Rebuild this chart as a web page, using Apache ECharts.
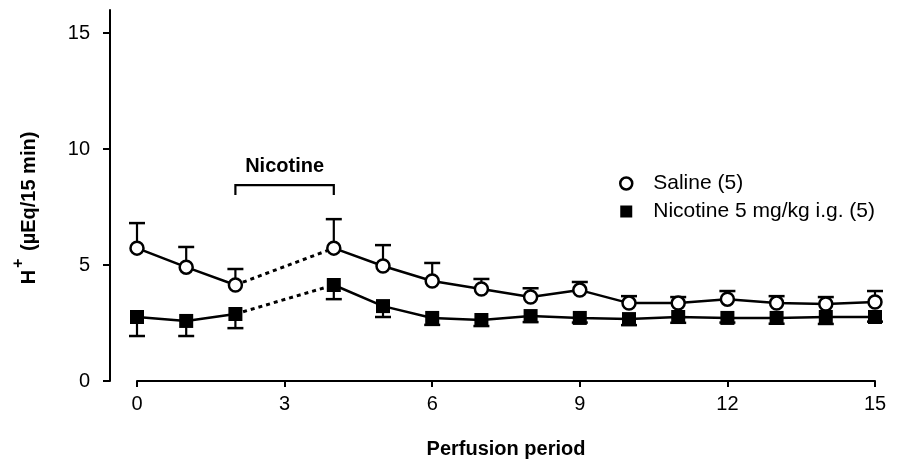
<!DOCTYPE html>
<html><head><meta charset="utf-8">
<script src="https://cdn.jsdelivr.net/npm/echarts@6/dist/echarts.min.js"></script>
<style>html,body{margin:0;padding:0;background:#fff}#c{width:897px;height:470px}</style>
</head><body><div id="c"></div>
<script>
// ---- data ----
const periods = [0,1,2,3,4,5,6,7,8,9,10,11,12,13,14,15];
const salineMean   = [5.73,4.91,4.14,null,5.73,4.96,4.31,3.97,3.62,3.92,3.36,3.36,3.53,3.36,3.32,3.41];
const salineSem    = [1.08,0.87,0.69,null,1.25,0.90,0.78,0.43,0.38,0.35,0.30,0.26,0.35,0.30,0.30,0.47];
const nicotineMean = [2.76,2.59,2.89,null,4.14,3.23,2.72,2.63,2.80,2.72,2.67,2.76,2.72,2.72,2.76,2.76];
const nicotineSem  = [0.82,0.65,0.61,null,0.61,0.47,0.30,0.26,0.26,0.20,0.26,0.25,0.20,0.25,0.30,0.20];
const xTicks = [0,3,6,9,12,15];
const yTicks = [0,5,10,15];
const nicotinePeriod = [2,4];
const seriesNames = ['Saline (5)', 'Nicotine 5 mg/kg i.g. (5)'];

// ---- chart ----
const FONT = 'Liberation Sans, Arial, Helvetica, sans-serif';
const chart = echarts.init(document.getElementById('c'), null, {renderer:'canvas'});

function lineData(means){ return periods.map((p,i)=>[p, means[i]==null ? '-' : means[i]]); }
function errData(means, sems){ return periods.map((p,i)=> means[i]==null ? null : [p, means[i], sems[i]]).filter(Boolean); }
function connector(means){ return nicotinePeriod.map(p => [p, means[periods.indexOf(p)]]); }

function errorSeries(name, means, sems, dir){
  return {
    type:'custom', name:name, silent:true, z:1,
    encode:{x:0, y:1},
    renderItem:function(params, api){
      const x = api.value(0), m = api.value(1), e = api.value(2);
      const p0 = api.coord([x, m]);
      const p1 = api.coord([x, m + dir*e]);
      return {type:'group', children:[
        {type:'line', shape:{x1:p0[0], y1:p0[1], x2:p1[0], y2:p1[1]}, style:{stroke:'#000', lineWidth:2.2}},
        {type:'line', shape:{x1:p1[0]-8, y1:p1[1], x2:p1[0]+8, y2:p1[1]}, style:{stroke:'#000', lineWidth:2.5}}
      ]};
    },
    data: errData(means, sems)
  };
}

const BRACKET_LEVEL = 8.45;
const option = {
  backgroundColor:'#fff',
  animation:false,
  grid:{left:137, right:22, top:10, bottom:89},
  xAxis:{
    type:'value', min:0, max:15, interval:3,
    axisLine:{show:true, onZero:false, lineStyle:{color:'#000', width:2}},
    axisTick:{show:true, length:6, lineStyle:{color:'#000', width:2}, customValues:xTicks},
    axisLabel:{color:'#000', fontSize:20, fontFamily:FONT, margin:13, customValues:xTicks},
    splitLine:{show:false},
    name:'Perfusion period', nameLocation:'middle', nameGap:58,
    nameTextStyle:{color:'#000', fontSize:20, fontWeight:'bold', fontFamily:FONT}
  },
  yAxis:{
    type:'value', min:0, max:16, interval:5, offset:27,
    axisLine:{show:true, onZero:false, lineStyle:{color:'#000', width:2}},
    axisTick:{show:true, length:7, lineStyle:{color:'#000', width:2}, customValues:yTicks},
    axisLabel:{color:'#000', fontSize:20, fontFamily:FONT, margin:20, customValues:yTicks},
    splitLine:{show:false}
  },
  legend:{
    orient:'vertical', left:614, top:168, itemGap:7,
    itemWidth:12, itemHeight:12,
    textStyle:{color:'#000', fontSize:21, fontFamily:FONT, padding:[0,0,0,16]},
    data:[
      {name:seriesNames[0], icon:'circle', itemStyle:{color:'#fff', borderColor:'#000', borderWidth:2.5}},
      {name:seriesNames[1], icon:'rect', itemStyle:{color:'#000', borderWidth:0}}
    ]
  },
  graphic:[{
    type:'text', x:27, y:208, rotation:Math.PI/2,
    style:{
      text:'{h|H}{sup|+}{h| (µEq/15 min)}',
      align:'center', verticalAlign:'middle',
      rich:{
        h:{fontSize:20, fontWeight:'bold', fontFamily:FONT, fill:'#000', lineHeight:24, verticalAlign:'bottom'},
        sup:{fontSize:16, fontWeight:'bold', fontFamily:FONT, fill:'#000', lineHeight:24, padding:[0,2,12,2], verticalAlign:'bottom'}
      }
    }
  }],
  series:[
    errorSeries('saline-err', salineMean, salineSem, 1),
    errorSeries('nicotine-err', nicotineMean, nicotineSem, -1),
    {type:'line', name:'saline-link', data:connector(salineMean), symbol:'none', z:2, silent:true,
     lineStyle:{color:'#000', width:3, type:[4,4]}},
    {type:'line', name:'nicotine-link', data:connector(nicotineMean), symbol:'none', z:2, silent:true,
     lineStyle:{color:'#000', width:3, type:[4,4]}},
    {type:'line', name:seriesNames[0], data:lineData(salineMean), connectNulls:false, z:3,
     symbol:'circle', symbolSize:13, showAllSymbol:true,
     lineStyle:{color:'#000', width:2.5},
     itemStyle:{color:'#fff', borderColor:'#000', borderWidth:2.5, opacity:1}},
    {type:'line', name:seriesNames[1], data:lineData(nicotineMean), connectNulls:false, z:3,
     symbol:'rect', symbolSize:14, showAllSymbol:true,
     lineStyle:{color:'#000', width:2.5},
     itemStyle:{color:'#000', borderWidth:0, opacity:1}},
    {type:'custom', name:'nicotine-bracket', silent:true, z:2,
     encode:{x:[0,1]},
     renderItem:function(params, api){
       const a = api.coord([api.value(0), BRACKET_LEVEL]);
       const b = api.coord([api.value(1), BRACKET_LEVEL]);
       return {type:'group', children:[
         {type:'polyline', shape:{points:[[a[0], a[1]+10],[a[0], a[1]],[b[0], b[1]],[b[0], b[1]+10]]},
          style:{stroke:'#000', lineWidth:2.2, fill:null}},
         {type:'text', x:(a[0]+b[0])/2, y:a[1]-19,
          style:{text:'Nicotine', align:'center', verticalAlign:'middle', fill:'#000',
                 fontSize:20, fontWeight:'bold', fontFamily:FONT}}
       ]};
     },
     data:[[nicotinePeriod[0], nicotinePeriod[1]]]}
  ]
};
chart.setOption(option);
</script>
</body></html>
